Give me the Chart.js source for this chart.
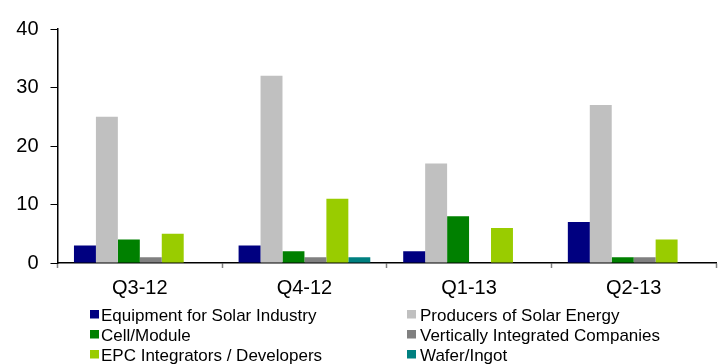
<!DOCTYPE html>
<html>
<head>
<meta charset="utf-8">
<script src="https://cdn.jsdelivr.net/npm/chart.js@4/dist/chart.umd.min.js"></script>
<style>
  html, body { margin: 0; padding: 0; background: #fff; }
  #wrap { width: 721px; height: 364px; position: relative; }
</style>
</head>
<body>
<div id="wrap"><canvas id="c"></canvas></div>
<script>
// Quarters on the x axis
const quarters = ['Q3-12', 'Q4-12', 'Q1-13', 'Q2-13'];

// Deal counts per segment and quarter
const equipment   = [3, 3, 2, 7];
const producers   = [25, 32, 17, 27];
const cellModule  = [4, 2, 8, 1];
const vertical    = [1, 1, 0, 1];
const epc         = [5, 11, 6, 4];
const waferIngot  = [0, 1, 0, 0];

const seriesNames = [
  'Equipment for Solar Industry',
  'Producers of Solar Energy',
  'Cell/Module',
  'Vertically Integrated Companies',
  'EPC Integrators / Developers',
  'Wafer/Ingot'
];
const seriesColors = ['#000080', '#C0C0C0', '#008000', '#808080', '#99CC00', '#008080'];
const seriesValues = [equipment, producers, cellModule, vertical, epc, waferIngot];

const yTicks = [0, 10, 20, 30, 40];

const FONT = "'Liberation Sans', Arial, sans-serif";

// Two-column legend under the axis, drawn on the canvas
const twoColumnLegend = {
  id: 'twoColumnLegend',
  afterDraw(chart) {
    const ctx = chart.ctx;
    const cols = [{ box: 90, text: 101 }, { box: 407, text: 420 }];
    const baselines = [321, 341, 361];
    ctx.save();
    ctx.font = '17px ' + FONT;
    ctx.textBaseline = 'alphabetic';
    ctx.textAlign = 'left';
    chart.data.datasets.forEach((ds, i) => {
      const col = cols[i % 2];
      const y = baselines[Math.floor(i / 2)];
      ctx.fillStyle = ds.backgroundColor;
      ctx.fillRect(col.box, y - 11, 9, 8.5);
      ctx.fillStyle = '#000';
      ctx.fillText(ds.label, col.text, y);
    });
    ctx.restore();
  }
};

new Chart(document.getElementById('c'), {
  type: 'bar',
  data: {
    labels: quarters,
    datasets: seriesNames.map((name, i) => ({
      label: name,
      data: seriesValues[i],
      backgroundColor: seriesColors[i],
      borderWidth: 0,
      categoryPercentage: 0.8,
      barPercentage: 1.0
    }))
  },
  options: {
    responsive: true,
    maintainAspectRatio: false,
    animation: false,
    layout: { padding: { top: 29, right: 5, left: 0, bottom: 0 } },
    plugins: {
      legend: { display: false },
      tooltip: { enabled: false }
    },
    scales: {
      x: {
        offset: true,
        grid: {
          display: true,
          drawOnChartArea: false,
          offset: true,
          tickLength: 5,
          tickColor: '#808080',
          tickWidth: 1.5
        },
        border: { color: '#000', width: 1.5 },
        ticks: {
          color: '#000',
          font: { family: FONT, size: 20 },
          padding: 8
        },
        afterFit(scale) { scale.height = 101; }
      },
      y: {
        min: 0,
        max: 40,
        afterBuildTicks(scale) { scale.ticks = yTicks.map(v => ({ value: v })); },
        grid: {
          display: true,
          drawOnChartArea: false,
          tickLength: 7,
          tickColor: '#000',
          tickWidth: 1
        },
        border: { color: '#000', width: 1.5 },
        ticks: {
          color: '#000',
          font: { family: FONT, size: 20 },
          padding: 12
        },
        afterFit(scale) { scale.width = 57.5; }
      }
    }
  },
  plugins: [twoColumnLegend]
});
</script>
</body>
</html>
